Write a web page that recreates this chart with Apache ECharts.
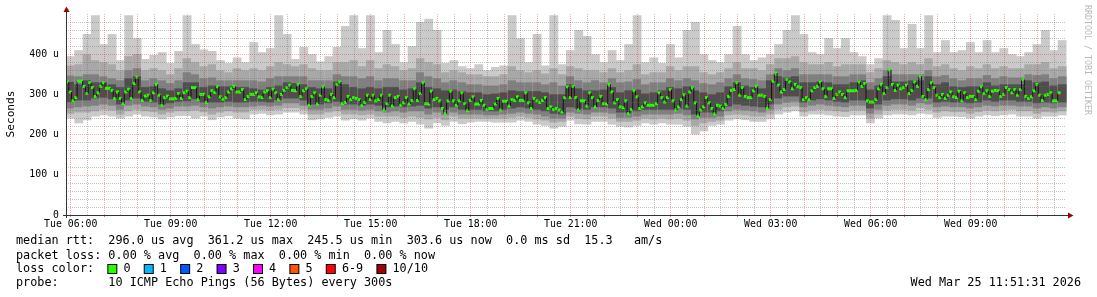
<!DOCTYPE html>
<html><head><meta charset="utf-8">
<script src="https://cdn.jsdelivr.net/npm/echarts@6/dist/echarts.min.js"></script>
<style>html,body{margin:0;padding:0;background:#fff}#c{width:1097px;height:297px}</style>
</head><body><div id="c"></div>
<script>
// ---- time base (hours since Tue 00:00) ----
const START_HOUR = 5 + 51/60 + 31/3600;   // Tue 05:51:31
const SPAN_HOURS = 30;
const MEDIAN_STEP_H = 5/60;                // one probe round = 300 s
const BAND_STEP_H = 15/60;

// ---- median rtt per 300 s step (microseconds) ----
const medianRtt = [
331,306,284,292,333,333,320,302,329,317,295,304,320,329,315,315,310,290,306,290,277,306,313,290,327,343,306,285,296,298,285,304,325,298,273,292,296,289,289,290,302,290,304,308,292,317,317,287,300,300,280,294,309,305,319,294,288,292,306,314,
320,306,306,312,287,295,300,300,304,294,292,306,309,292,313,304,287,300,310,317,323,310,309,325,295,309,314,273,295,304,276,298,319,287,285,300,292,325,331,277,280,295,287,292,290,287,273,280,298,287,298,284,287,298,261,277,298,271,292,295,
273,279,292,276,285,314,285,302,329,277,276,308,287,290,284,265,252,284,308,284,273,284,304,277,259,285,294,276,276,285,273,262,265,265,276,290,261,283,283,271,287,285,294,285,285,304,279,265,290,284,280,285,292,265,269,262,265,261,256,292,
319,292,
320,292,261,284,284,271,304,292,269,285,295,277,276,325,306,279,287,269,267,284,252,262,309,294,265,269,279,273,273,273,277,304,292,281,292,312,284,261,269,287,299,271,306,317,279,246,261,269,292,279,265,251,273,271,265,275,295,310,312,329,298,317,295,
292,292,309,320,298,298,295,265,287,333,353,323,306,312,337,331,314,325,319,317,287,292,287,309,317,320,331,314,295,314,314,290,300,306,300,292,309,309,309,310,331,320,327,284,281,281,287,314,325,302,317,361,325,310,323,314,317,323,302,310,331,
320,345,295,287,312,329,317,298,292,300,290,298,306,294,292,308,284,304,292,295,295,287,308,319,302,309,295,308,310,309,295,300,317,312,304,312,298,312,337,295,290,294,309,325,298,285,298,300,304,284,284,304
];

// ---- smoke bands per 15 min (microseconds), outer to inner ----
const smokeMax = [
395,410,450,497,425,450,385,497,440,388,398,405,378,408,497,425,412,408,385,378,
392,380,430,405,415,497,450,388,418,400,382,395,418,470,497,415,497,405,460,425,
380,420,480,488,460,378,385,370,365,375,360,368,372,497,440,380,450,372,497,375,410,
460,445,400,380,410,385,425,497,380,392,378,425,392,460,480,400,385,380,400,470,
400,385,392,400,425,460,497,450,405,400,440,415,440,405,395,375,390,497,485,415,
475,415,497,405,435,405,410,430,405,435,405,415,400,395,405,425,460,410,435
];
const smokeHi2 = [
372,375,400,385,380,375,360,395,400,360,365,360,350,365,390,380,370,375,360,355,
365,360,365,360,370,380,375,370,375,365,360,360,380,380,385,370,385,365,375,370,
360,365,390,380,375,355,360,355,350,350,345,345,350,370,360,355,360,352,365,350,370,
365,360,360,355,365,355,360,375,350,355,355,370,360,370,370,355,350,355,365,380,
365,365,360,375,390,390,395,380,375,375,380,370,375,375,375,355,365,385,380,375,
380,375,390,370,375,365,360,370,365,375,365,370,365,365,375,375,380,365,370
];
const smokeHi3 = [
347,345,350,350,345,340,335,360,365,335,340,335,328,335,355,350,340,342,335,335,
335,335,335,332,340,345,345,345,345,335,335,335,350,345,345,340,345,335,340,340,
335,335,355,345,340,330,335,330,325,325,322,322,325,335,330,330,330,325,330,322,345,
335,330,335,330,340,330,332,338,325,330,330,340,335,340,335,328,325,330,340,350,
340,338,335,350,365,360,365,350,350,350,350,345,345,350,350,330,340,360,350,350,
350,350,360,345,348,340,335,340,340,348,340,345,342,342,350,348,350,340,345
];
const smokeHi4 = [
331,325,335,330,330,325,318,340,345,318,320,315,310,315,330,330,318,322,320,320,
318,318,315,312,318,322,330,328,325,318,315,315,332,325,318,315,318,315,318,318,
312,315,330,318,315,310,312,308,305,305,300,302,305,310,308,308,308,305,300,300,325,
315,310,310,312,318,305,310,312,302,305,310,318,315,320,310,305,300,305,320,330,
322,318,315,335,345,342,345,330,330,332,330,325,325,330,335,312,322,345,332,332,
335,335,345,325,330,320,318,320,320,330,322,325,325,325,335,330,332,322,325
];
const smokeLo4 = [
281,285,285,290,292,288,275,285,290,282,280,275,278,282,283,288,280,280,280,282,
280,280,282,282,280,285,290,290,285,275,275,278,282,275,275,272,275,272,268,270,
268,270,272,265,268,262,268,262,262,262,258,258,262,265,268,265,262,258,252,250,268,
265,262,268,268,265,255,255,258,262,262,262,262,265,262,250,255,255,258,270,275,
272,270,268,275,290,295,295,280,285,288,285,282,280,285,285,265,275,285,288,288,
285,290,290,280,282,280,280,278,280,285,282,285,285,282,282,278,280,278,280
];
const smokeLo3 = [
265,268,270,272,275,272,262,272,275,270,268,262,265,270,270,272,268,265,268,270,
268,268,270,272,270,272,278,278,272,262,262,265,270,262,262,260,262,258,255,258,
255,258,258,250,255,248,255,250,250,250,248,248,250,252,255,252,250,245,240,240,255,
252,250,255,255,252,242,242,245,250,250,250,250,252,248,238,242,242,245,258,262,
260,258,255,262,275,280,282,268,272,275,272,270,268,272,272,252,262,272,275,275,
272,278,275,268,270,268,268,265,268,272,270,272,272,270,270,265,268,265,268
];
const smokeLo2 = [
252,255,255,258,262,260,250,258,262,258,256,250,255,258,258,260,256,250,255,258,
255,255,262,262,260,262,266,266,262,250,250,255,258,250,250,248,250,245,245,245,
242,245,242,238,242,236,245,240,240,240,240,240,240,242,245,242,238,235,230,232,245,
240,238,245,245,240,232,232,235,240,238,240,238,240,235,222,228,232,235,248,250,
248,245,245,250,262,268,270,256,260,262,260,258,256,260,260,240,250,260,262,262,
260,266,262,255,258,256,256,252,256,260,258,260,262,258,258,252,256,255,258
];
const smokeMin = [
240,228,236,245,248,245,240,245,250,245,243,238,243,246,246,240,245,236,243,246,
240,238,250,252,248,250,255,255,250,236,238,242,245,235,238,235,240,232,228,232,
228,232,225,215,228,222,232,226,230,232,232,230,230,230,235,232,225,222,215,220,235,
226,225,232,232,225,220,218,222,228,225,228,225,225,220,200,208,222,225,235,238,
236,232,232,238,250,255,258,245,250,250,248,245,244,248,248,228,240,248,250,250,
248,252,250,242,245,245,244,240,245,248,246,248,250,245,245,240,245,245,248
];

// ---- axes ----
const majorGridHours = [6,7,8,9,10,11,12,13,14,15,16,17,18,19,20,21,22,23,24,25,26,27,28,29,30,31,32,33,34,35];
const minorGridHours = [6.5,7.5,8.5,9.5,10.5,11.5,12.5,13.5,14.5,15.5,16.5,17.5,18.5,19.5,20.5,21.5,22.5,23.5,24.5,25.5,26.5,27.5,28.5,29.5,30.5,31.5,32.5,33.5,34.5,35.5];
const xLabelHours = [6,9,12,15,18,21,24,27,30,33];
const xLabelTexts = ['Tue 06:00','Tue 09:00','Tue 12:00','Tue 15:00','Tue 18:00','Tue 21:00','Wed 00:00','Wed 03:00','Wed 06:00','Wed 09:00'];
const yLabelValues = [0,100,200,300,400];
const yLabelTexts = ['0','100 u','200 u','300 u','400 u'];

// ---- legend ----
const lossLabels = ['0','1','2','3','4','5','6-9','10/10'];
const lossColors = ['#26ff00','#00b8ff','#0059ff','#7e00ff','#ff00ff','#ff5500','#ff0000','#a10000'];
const legendLines = [
  'median rtt:  296.0 us avg  361.2 us max  245.5 us min  303.6 us now  0.0 ms sd  15.3   am/s',
  'packet loss: 0.00 % avg  0.00 % max  0.00 % min  0.00 % now',
  'probe:       10 ICMP Echo Pings (56 Bytes) every 300s'
];
const stampText = 'Wed Mar 25 11:51:31 2026';
const SMOKE_COLORS = ['#cacaca','#a8a8a8','#808080','#4e4e4e'];

const MONO = '"DejaVu Sans Mono", "Liberation Mono", monospace';

// build data
const bandData = smokeMax.map((mx, i) => {
  const x0 = START_HOUR + i*BAND_STEP_H;
  return [x0, x0 + BAND_STEP_H, smokeMin[i], smokeLo2[i], smokeLo3[i], smokeLo4[i], smokeHi4[i], smokeHi3[i], smokeHi2[i], mx];
});
const medianData = medianRtt.map((m, j) => {
  const x0 = START_HOUR + j*MEDIAN_STEP_H;
  return [x0, x0 + MEDIAN_STEP_H, m, j > 0 ? medianRtt[j-1] : m];
});

function renderSmoke(params, api) {
  const x0 = api.value(0), x1 = api.value(1);
  const pairs = [[2,9],[3,8],[4,7],[5,6]];
  const children = pairs.map((p, k) => {
    const a = api.coord([x0, api.value(p[1])]);
    const b = api.coord([x1, api.value(p[0])]);
    return {type:'rect', shape:{x:a[0], y:a[1], width:b[0]-a[0]+0.5, height:b[1]-a[1]},
            style:{fill:SMOKE_COLORS[k]}};
  });
  return {type:'group', children};
}
function renderMedian(params, api) {
  const x0 = api.value(0), x1 = api.value(1), m = api.value(2), pm = api.value(3);
  const p = api.coord([x0, m]), q = api.coord([x1, m]), pp = api.coord([x0, pm]);
  return {type:'group', children:[
    {type:'line', shape:{x1:p[0], y1:pp[1], x2:p[0], y2:p[1]}, style:{stroke:'#111', lineWidth:1}},
    {type:'rect', shape:{x:p[0], y:p[1]-1.5, width:q[0]-p[0]+0.2, height:3}, style:{fill:lossColors[0]}}
  ]};
}

const lossRich = {};
let lossText = 'loss color:  ';
lossLabels.forEach((l, i) => {
  lossRich['c'+i] = {width:8, height:8, backgroundColor:lossColors[i], borderColor:'#000', borderWidth:1};
  lossText += '{c'+i+'| } ' + l + (i < lossLabels.length-1 ? '  ' : '');
});

const chart = echarts.init(document.getElementById('c'), null, {renderer:'canvas'});
const FONT_LEG = '11.8px ' + MONO;
chart.setOption({
  animation:false,
  backgroundColor:'#ffffff',
  grid:{left:66, top:14, width:1000, height:201, containLabel:false},
  xAxis:[{
    type:'value', min:START_HOUR, max:START_HOUR+SPAN_HOURS, z:5,
    axisLine:{show:false},
    axisTick:{show:true, customValues:majorGridHours, length:2, lineStyle:{color:'rgba(200,0,0,0.5)'}},
    axisLabel:{customValues:xLabelHours, margin:4.5, fontFamily:MONO, fontSize:9.85, color:'#000',
      formatter:(v)=>{const k=xLabelHours.indexOf(Math.round(v)); return k>=0?xLabelTexts[k]:'';}},
    splitLine:{show:true, lineStyle:{color:'rgba(255,0,0,0.33)', width:1, type:[1,1]}}
  },{
    type:'value', min:START_HOUR, max:START_HOUR+SPAN_HOURS, z:4, position:'bottom',
    axisLine:{show:false},
    axisTick:{show:false, customValues:minorGridHours},
    axisLabel:{show:false},
    splitLine:{show:true, lineStyle:{color:'rgba(110,110,110,0.42)', width:1, type:[1,1]}}
  }],
  yAxis:{
    type:'value', min:0, max:500, interval:100, z:5,
    axisLine:{show:false}, axisTick:{show:false},
    axisLabel:{margin:7, fontFamily:MONO, fontSize:9.85, color:'#000',
      formatter:(v)=>{const k=yLabelValues.indexOf(v); return k>=0?yLabelTexts[k]:'';}},
    splitLine:{show:true, showMaxLine:false, showMinLine:false, lineStyle:{color:'rgba(255,0,0,0.33)', width:1, type:[1,1]}},
    minorTick:{show:false, splitNumber:5},
    minorSplitLine:{show:true, lineStyle:{color:'rgba(110,110,110,0.42)', width:1, type:[1,1]}}
  },
  series:[{
    type:'custom', name:'smoke', xAxisIndex:0, yAxisIndex:0, renderItem:renderSmoke,
    encode:{x:[0,1], y:[2,9]}, data:bandData, silent:true, z:2
  },{
    type:'custom', name:'median', xAxisIndex:0, yAxisIndex:0, renderItem:renderMedian,
    encode:{x:[0,1], y:[2,3]}, data:medianData, silent:true, z:3
  }],
  graphic:[
    {type:'line', shape:{x1:66.5, y1:218, x2:66.5, y2:11}, style:{stroke:'#333', lineWidth:1}, z:10},
    {type:'line', shape:{x1:63, y1:215.5, x2:1069, y2:215.5}, style:{stroke:'#333', lineWidth:1}, z:10},
    {type:'polygon', shape:{points:[[63.5,12],[69.5,12],[66.5,6.5]]}, style:{fill:'#9a0000'}, z:11},
    {type:'polygon', shape:{points:[[1068,212.5],[1068,218.5],[1073.5,215.5]]}, style:{fill:'#9a0000'}, z:11},
    {type:'text', x:11, y:114, rotation:Math.PI/2, style:{text:'Seconds', font:'11.2px '+MONO, fill:'#000', align:'center', verticalAlign:'middle'}},
    {type:'text', x:1087, y:60, rotation:-Math.PI/2, style:{text:'RRDTOOL / TOBI OETIKER', font:'8.3px '+MONO, fill:'#b8b8b8', align:'center', verticalAlign:'middle'}},
    {type:'text', x:16, y:241, style:{text:legendLines[0], font:FONT_LEG, fill:'#000', verticalAlign:'middle'}},
    {type:'text', x:16, y:255.5, style:{text:legendLines[1], font:FONT_LEG, fill:'#000', verticalAlign:'middle'}},
    {type:'text', x:16, y:269, style:{text:lossText, font:FONT_LEG, fill:'#000', verticalAlign:'middle', rich:lossRich}},
    {type:'text', x:16, y:283.3, style:{text:legendLines[2], font:FONT_LEG, fill:'#000', verticalAlign:'middle'}},
    {type:'text', x:1081, y:283.3, style:{text:stampText, font:FONT_LEG, fill:'#000', align:'right', verticalAlign:'middle'}}
  ]
});
</script></body></html>
